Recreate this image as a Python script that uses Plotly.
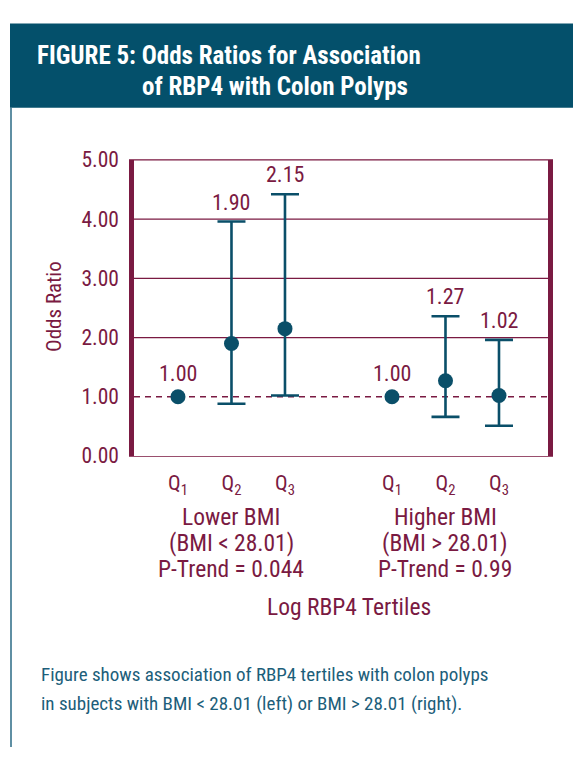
import plotly.graph_objects as go

W, H = 573, 760

# ---- data ----
positions = [1, 2, 3, 5, 6, 7]
tertile_labels = ["Q<sub>1</sub>", "Q<sub>2</sub>", "Q<sub>3</sub>",
                  "Q<sub>1</sub>", "Q<sub>2</sub>", "Q<sub>3</sub>"]
odds_ratio = [1.00, 1.90, 2.15, 1.00, 1.27, 1.02]
ci_low = [None, 0.88, 1.02, None, 0.66, 0.51]
ci_high = [None, 3.96, 4.42, None, 2.36, 1.96]
y_ticks = [0, 1, 2, 3, 4, 5]
group_pos = [2, 6]
group_names = ["Lower BMI", "Higher BMI"]
group_conditions = ["(BMI &lt; 28.01)", "(BMI &gt; 28.01)"]
group_ptrend = ["P-Trend = 0.044", "P-Trend = 0.99"]
reference_or = 1.0

TEAL = "#0A4F69"
HEAD = "#04506B"
MAROON = "#7A1A42"
FONT = "Liberation Sans Narrow, Roboto Condensed, Arial Narrow, sans-serif"


def px(x):
    return x / W


def py(y):
    return 1 - y / H


fig = go.Figure()

# error bars for points that have a CI
ci_idx = [i for i in range(len(positions)) if ci_low[i] is not None]
fig.add_trace(go.Scatter(
    x=[positions[i] for i in ci_idx],
    y=[odds_ratio[i] for i in ci_idx],
    mode="markers",
    marker=dict(size=1, color="rgba(0,0,0,0)"),
    error_y=dict(
        type="data", symmetric=False,
        array=[ci_high[i] - odds_ratio[i] for i in ci_idx],
        arrayminus=[odds_ratio[i] - ci_low[i] for i in ci_idx],
        color=TEAL, thickness=2.6, width=14,
    ),
    hoverinfo="skip", showlegend=False,
))

# points
fig.add_trace(go.Scatter(
    x=positions, y=odds_ratio, mode="markers",
    marker=dict(size=15, color=TEAL),
    showlegend=False,
))

# value labels
for i, (xp, v) in enumerate(zip(positions, odds_ratio)):
    if ci_high[i] is not None:
        fig.add_annotation(x=xp, y=ci_high[i], xref="x", yref="y",
                           text=f"{v:.2f}", showarrow=False,
                           yanchor="bottom", yshift=5,
                           font=dict(family=FONT, size=22, color=MAROON))
    else:
        fig.add_annotation(x=xp, y=v, xref="x", yref="y",
                           text=f"{v:.2f}", showarrow=False,
                           yanchor="bottom", yshift=9,
                           font=dict(family=FONT, size=22, color=MAROON))

# gridlines (solid) and reference line (dashed)
for t in y_ticks:
    if t == 0:
        continue
    if t == reference_or:
        fig.add_shape(type="line", xref="x domain", yref="y", x0=0, x1=1,
                      y0=t, y1=t, line=dict(color=MAROON, width=1.6, dash="6px,5px"),
                      layer="below")
    else:
        fig.add_shape(type="line", xref="x domain", yref="y", x0=0, x1=1,
                      y0=t, y1=t, line=dict(color=MAROON, width=1.3),
                      layer="below")

# header band
fig.add_shape(type="rect", xref="paper", yref="paper",
              x0=px(10), x1=px(573), y0=py(99), y1=py(12),
              fillcolor=HEAD, line=dict(width=0), layer="below")
# left border line
fig.add_shape(type="line", xref="paper", yref="paper",
              x0=px(11), x1=px(11), y0=py(99), y1=py(760),
              line=dict(color="#2A6A85", width=1.5))

fig.add_annotation(xref="paper", yref="paper", x=px(35), y=py(45),
                   xanchor="left", yanchor="middle", showarrow=False,
                   text="<b>FIGURE 5: Odds Ratios for Association</b>",
                   font=dict(family=FONT, size=25, color="white"))
fig.add_annotation(xref="paper", yref="paper", x=px(140), y=py(77),
                   xanchor="left", yanchor="middle", showarrow=False,
                   text="<b>of RBP4 with Colon Polyps</b>",
                   font=dict(family=FONT, size=25, color="white"))

# y-axis title
fig.add_annotation(xref="paper", yref="paper", x=px(54), y=py(305),
                   text="Odds Ratio", textangle=-90, showarrow=False,
                   xanchor="center", yanchor="middle",
                   font=dict(family=FONT, size=21, color=MAROON))

# group labels (one line each, tight spacing)
for gx, gname, gcond, gp in zip(group_pos, group_names, group_conditions, group_ptrend):
    for txt, yy in ((gname, 522), (gcond, 549), (gp, 576)):
        fig.add_annotation(xref="x", yref="paper", x=gx, y=py(yy),
                           text=txt, showarrow=False, xanchor="center",
                           yanchor="middle",
                           font=dict(family=FONT, size=23.5, color=MAROON))

fig.add_annotation(xref="paper", yref="paper", x=px(349), y=py(615),
                   text="Log RBP4 Tertiles", showarrow=False,
                   xanchor="center", yanchor="middle",
                   font=dict(family=FONT, size=23.5, color=MAROON))

# caption
fig.add_annotation(xref="paper", yref="paper", x=px(39), y=py(685),
                   text="Figure shows association of RBP4 tertiles with colon polyps",
                   showarrow=False, xanchor="left", yanchor="middle",
                   font=dict(family=FONT, size=19, color="#1C5E7A"))
fig.add_annotation(xref="paper", yref="paper", x=px(39), y=py(715),
                   text="in subjects with BMI &lt; 28.01 (left) or BMI &gt; 28.01 (right).",
                   showarrow=False, xanchor="left", yanchor="middle",
                   font=dict(family=FONT, size=19, color="#1C5E7A"))

fig.update_layout(
    width=W, height=H, autosize=False,
    margin=dict(l=0, r=0, t=0, b=0),
    paper_bgcolor="white", plot_bgcolor="white",
    showlegend=False,
    xaxis=dict(
        domain=[px(134), px(548)], range=[0.178, 7.916],
        tickvals=positions, ticktext=tertile_labels,
        showgrid=False, zeroline=False,
        showline=True, mirror=True, linecolor="#9A4F6E", linewidth=1.2,
        ticks="", ticklabelstandoff=8,
        tickfont=dict(family=FONT, size=21, color=MAROON),
    ),
    yaxis=dict(
        domain=[py(459), py(153)], range=[0, 5],
        tickvals=y_ticks, tickformat=".2f",
        showgrid=False, zeroline=False,
        showline=True, mirror=True, linecolor=MAROON, linewidth=4.5,
        ticks="", ticklabelstandoff=6,
        tickfont=dict(family=FONT, size=21.5, color=MAROON),
    ),
)

fig.write_html("out.html", config={"displayModeBar": False})
with open("out.html", "r", encoding="utf-8") as f:
    html = f.read()
html = html.replace("<head>", "<head><style>html,body{margin:0;padding:0;overflow:hidden;}</style>", 1)
with open("out.html", "w", encoding="utf-8") as f:
    f.write(html)
